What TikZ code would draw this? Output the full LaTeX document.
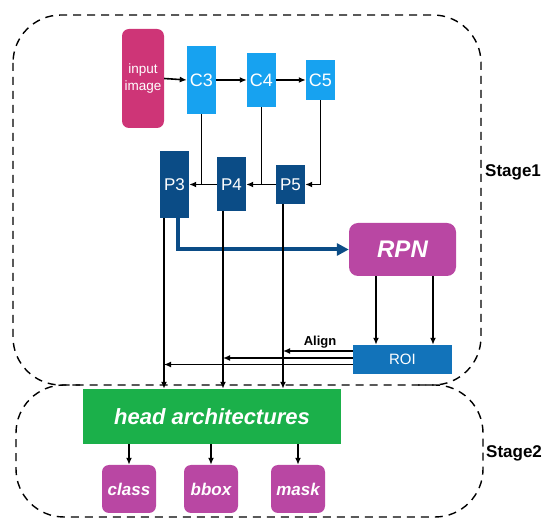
\documentclass[tikz,border=0pt]{standalone}
\usepackage{fontspec}
\setmainfont{Liberation Sans}
\usetikzlibrary{arrows.meta,calc}
\definecolor{inpink}{HTML}{CE3577}
\definecolor{cblue}{HTML}{17A2F0}
\definecolor{pblue}{HTML}{0B4C86}
\definecolor{rpnmag}{HTML}{B947A3}
\definecolor{roiblue}{HTML}{1273BA}
\definecolor{headgreen}{HTML}{1BB04A}
\begin{document}
\begin{tikzpicture}[x=1pt,y=-1pt,
  box/.style={draw=none, inner sep=0pt, text=white, anchor=center},
  cbox/.style={box, fill=cblue, minimum width=29pt, font=\fontsize{18}{18}\selectfont},
  pbox/.style={box, fill=pblue, minimum width=29pt, font=\fontsize{17}{17}\selectfont},
  magbox/.style={box, fill=rpnmag, rounded corners=7pt, minimum width=54pt, minimum height=48pt, font=\fontsize{17}{17}\selectfont\bfseries\itshape},
  arr/.style={line width=1.6pt, -{Latex[length=7pt,width=6pt]}},
  plain/.style={line width=1.6pt},
  stagebox/.style={line width=1.4pt, dash pattern=on 8pt off 6pt, rounded corners=48pt},
  stagelabel/.style={anchor=west, inner sep=0pt, font=\fontsize{17}{17}\selectfont\bfseries}
]
\useasboundingbox (0,0) rectangle (550,529);

% stage outlines
\draw[stagebox] (13,15) rectangle (481,385);
\draw[stagebox] (418,385) -- (483,385) -- (483,517) -- (16,517) -- (16,385) -- (80,385);
\node[stagelabel] (s1) at (485,172) {Stage1};
\node[stagelabel] (s2) at (486,453) {Stage2};

% backbone
\node[box, fill=inpink, rounded corners=7pt, minimum width=42pt, minimum height=99pt, align=center,
      font=\fontsize{13.5}{17}\selectfont] (inp) at (143,78.5) {input\\image};
\node[cbox, minimum height=68pt] (C3) at (201.5,80) {C3};
\node[cbox, minimum height=54pt] (C4) at (261.5,80) {C4};
\node[cbox, minimum height=40pt] (C5) at (320.5,80) {C5};

\draw[arr] (inp.east) -- (C3.west);
\draw[arr] (C3.east) -- (C4.west);
\draw[arr] (C4.east) -- (C5.west);

% pyramid
\node[pbox, minimum height=67pt] (P3) at (174.5,184.5) {P3};
\node[pbox, minimum height=54pt] (P4) at (231.5,184.5) {P4};
\node[pbox, minimum height=39pt] (P5) at (290.5,184.5) {P5};

\draw[arr] (C5.south) |- (P5.east);
\draw[plain] (P5.west) -- (P5.west -| C4.south);
\draw[arr] (C4.south) |- (P4.east);
\draw[plain] (P4.west) -- (P4.west -| C3.south);
\draw[arr] (C3.south) |- (P3.east);

% RPN and ROI
\node[box, fill=rpnmag, rounded corners=9pt, minimum width=107pt, minimum height=53pt,
      font=\fontsize{24}{24}\selectfont\bfseries\itshape] (RPN) at (402.5,249.5) {RPN};
\node[box, fill=roiblue, minimum width=99pt, minimum height=29pt,
      font=\fontsize{15}{15}\selectfont] (ROI) at (402.5,359.5) {ROI};

\draw[pblue, line width=4pt, -{Triangle[length=12pt,width=12pt]}] ([xshift=3.5pt]P3.south) |- (RPN.west);

\draw[arr] ([xshift=-26.5pt]RPN.south) -- ([xshift=-26.5pt]ROI.north);
\draw[arr] ([xshift=30.5pt]RPN.south) -- ([xshift=30.5pt]ROI.north);

% head
\node[box, fill=headgreen, minimum width=258pt, minimum height=55pt,
      font=\fontsize{22}{22}\selectfont\bfseries\itshape] (head) at (212,416.5) {head architectures};

\coordinate (l3) at (164,218);
\coordinate (l4) at (223,211);
\coordinate (l5) at (283,204);
\draw[arr] (l3) -- (l3 |- head.north);
\draw[arr] (l4) -- (l4 |- head.north);
\draw[arr] (l5) -- (l5 |- head.north);

\coordinate (r5) at (ROI.west |- 0,351);
\coordinate (r4) at (ROI.west |- 0,358);
\coordinate (r3) at (ROI.west |- 0,364.5);
\draw[arr] (r5) -- (r5 -| l5);
\draw[arr] (r4) -- (r4 -| l4);
\draw[arr] (r3) -- (r3 -| l3);
\node[inner sep=0pt, font=\fontsize{13}{13}\selectfont\bfseries] (align) at (320,342) {Align};

% outputs
\node[magbox] (cls) at (129,489) {class};
\node[magbox] (bbox) at (211,489) {bbox};
\node[magbox] (mask) at (298,489) {mask};

\draw[arr] (head.south -| cls.north) -- (cls.north);
\draw[arr] (head.south -| bbox.north) -- (bbox.north);
\draw[arr] (head.south -| mask.north) -- (mask.north);
\end{tikzpicture}
\end{document}
